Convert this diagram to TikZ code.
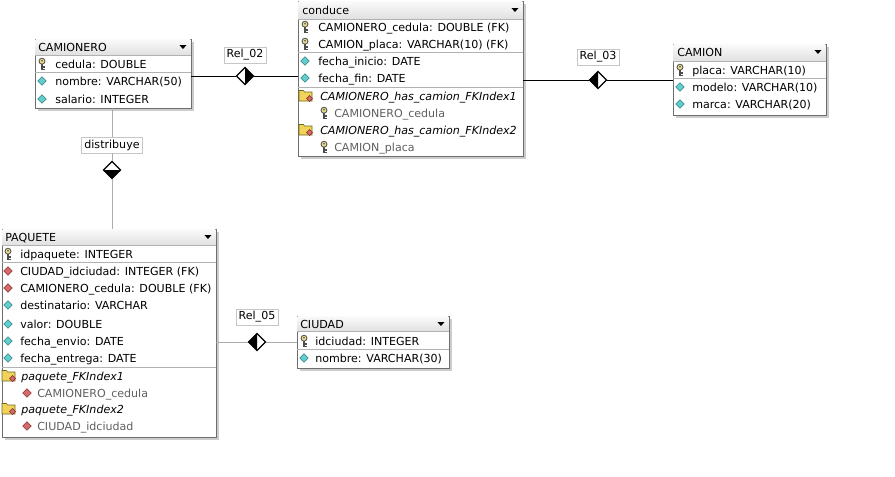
\documentclass[tikz,border=0pt]{standalone}
\usepackage{fontspec}
\setmainfont{DejaVu Sans}
\usetikzlibrary{arrows.meta, positioning, shapes.geometric, shadows, fit}

\definecolor{attrfill}{HTML}{62CDCD}
\definecolor{attrline}{HTML}{2A7F7F}
\definecolor{fkfill}{HTML}{D66A6A}
\definecolor{fkline}{HTML}{8A2A2A}
\definecolor{keyfill}{HTML}{E6DA8E}
\definecolor{folderfill}{HTML}{F2D35A}
\definecolor{frameline}{HTML}{6E6E6E}

\begin{document}
\begin{tikzpicture}[x=0.75pt, y=-0.75pt,
    font=\fontsize{8.3}{10}\selectfont,
    entity/.style={rectangle, draw=frameline, line width=0.7pt, fill=white,
      inner sep=0pt,
      drop shadow={shadow xshift=2.2pt, shadow yshift=-2.2pt, fill=gray!40,
        opacity=1}},
    hdr/.style={top color=gray!4, bottom color=gray!24},
    fld/.style={anchor=west, inner sep=0pt, text height=6pt, text depth=0pt},
    idx/.style={fld, font=\fontsize{8.3}{10}\selectfont\itshape},
    sub/.style={fld, text=gray!75!black},
    sep/.style={draw=gray!60, line width=0.5pt},
    attr/.style={diamond, draw=attrline, fill=attrfill, inner sep=0pt,
      minimum size=6.5pt, line width=0.4pt},
    fk/.style={attr, draw=fkline, fill=fkfill},
    pk/.style={minimum width=8pt, minimum height=10pt, inner sep=0pt,
      path picture={
        \begin{scope}[shift={(path picture bounding box.center)}]
          \draw[black!70, line width=1.3pt] (0,-1) -- (0,5.5);
          \draw[black!70, line width=0.8pt] (0,3) -- (2.5,3) (0,5.2) -- (2.5,5.2);
          \draw[black!70, fill=keyfill, line width=0.6pt] (0,-2.8) circle (3);
          \fill[black!70] (0,-3.3) circle (0.9);
        \end{scope}}},
    folder/.style={minimum width=12pt, minimum height=10pt, inner sep=0pt,
      path picture={
        \begin{scope}[shift={(path picture bounding box.center)}]
          \draw[olive!70!black, fill=folderfill, line width=0.4pt]
            (-7,5) -- (-7,-5.5) -- (-2.5,-5.5) -- (-1.5,-4) -- (6,-4)
            -- (6,5) -- cycle;
          \draw[fkline, fill=fkfill, line width=0.4pt]
            (3.5,-0.5) -- (6.5,2.5) -- (3.5,5.5) -- (0.5,2.5) -- cycle;
        \end{scope}}},
    rel/.style={draw=black, line width=0.75pt},
    relg/.style={draw=gray!65, line width=0.75pt},
    reldia/.style={diamond, draw=black, line width=0.9pt, fill=white,
      inner sep=0pt, minimum size=13pt},
    halfE/.style={reldia, path picture={\fill[black]
      (path picture bounding box.north) -- (path picture bounding box.east)
      -- (path picture bounding box.south) -- cycle;}},
    halfW/.style={reldia, path picture={\fill[black]
      (path picture bounding box.north) -- (path picture bounding box.west)
      -- (path picture bounding box.south) -- cycle;}},
    halfS/.style={reldia, path picture={\fill[black]
      (path picture bounding box.west) -- (path picture bounding box.south)
      -- (path picture bounding box.east) -- cycle;}},
    lbl/.style={draw=gray!45, fill=white, inner sep=2pt}]

  \fill[white] (0,0) rectangle (895,476);
  \useasboundingbox (0,0) rectangle (895,476);

  % CAMIONERO (top left)
  \node[entity, fit={(35,39) (191,108)}] (camionero) {};
  \path[hdr] ([shift={(1,1)}]camionero.north west) rectangle ([xshift=-0.75pt]camionero.east |- 0,55);
  \draw[sep] (camionero.west |- 0,55) -- (camionero.east |- 0,55);
  \node[fld] (camionero-t) at (38,47) {CAMIONERO};
  \fill (camionero.east |- 0,47) ++(-12,-2) -- ++(7,0) -- ++(-3.5,4) -- cycle;
  \foreach \y/\ic/\t [count=\i] in {64/pk/{cedula: DOUBLE},
      81/attr/{nombre: VARCHAR(50)}, 99/attr/{salario: INTEGER}}
    {\node[\ic] (camionero-i\i) at (42,\y) {};
     \node[fld] (camionero-f\i) at (55,\y) {\t};}
  \draw[sep] (camionero.west |- 0,72.5) -- (camionero.east |- 0,72.5);

  % conduce (top middle)
  \node[entity, fit={(298,1) (523,156)}] (conduce) {};
  \path[hdr] ([shift={(1,1)}]conduce.north west) rectangle ([xshift=-0.75pt]conduce.east |- 0,19);
  \draw[sep] (conduce.west |- 0,19) -- (conduce.east |- 0,19);
  \node[fld] (conduce-t) at (302,10) {conduce};
  \fill (conduce.east |- 0,10) ++(-12,-2) -- ++(7,0) -- ++(-3.5,4) -- cycle;
  \foreach \y/\ic/\t [count=\i] in {27/pk/{CAMIONERO\_cedula: DOUBLE (FK)},
      44/pk/{CAMION\_placa: VARCHAR(10) (FK)}, 61/attr/{fecha\_inicio: DATE},
      78/attr/{fecha\_fin: DATE}}
    {\node[\ic] (conduce-i\i) at (305,\y) {};
     \node[fld] (conduce-f\i) at (318,\y) {\t};}
  \draw[sep] (conduce.west |- 0,52.5) -- (conduce.east |- 0,52.5);
  \draw[sep] (conduce.west |- 0,87) -- (conduce.east |- 0,87);
  \node[folder] (conduce-x1) at (306,96) {};
  \node[idx] (conduce-n1) at (320,96) {CAMIONERO\_has\_camion\_FKIndex1};
  \node[pk] (conduce-k1) at (324,113) {};
  \node[sub] (conduce-s1) at (334,113) {CAMIONERO\_cedula};
  \node[folder] (conduce-x2) at (306,130) {};
  \node[idx] (conduce-n2) at (320,130) {CAMIONERO\_has\_camion\_FKIndex2};
  \node[pk] (conduce-k2) at (324,147) {};
  \node[sub] (conduce-s2) at (334,147) {CAMION\_placa};

  % CAMION (top right)
  \node[entity, fit={(673,44) (826,115)}] (camion) {};
  \path[hdr] ([shift={(1,1)}]camion.north west) rectangle ([xshift=-0.75pt]camion.east |- 0,61);
  \draw[sep] (camion.west |- 0,61) -- (camion.east |- 0,61);
  \node[fld] (camion-t) at (677,52) {CAMION};
  \fill (camion.east |- 0,52) ++(-12,-2) -- ++(7,0) -- ++(-3.5,4) -- cycle;
  \foreach \y/\ic/\t [count=\i] in {70/pk/{placa: VARCHAR(10)},
      87/attr/{modelo: VARCHAR(10)}, 104/attr/{marca: VARCHAR(20)}}
    {\node[\ic] (camion-i\i) at (680,\y) {};
     \node[fld] (camion-f\i) at (692,\y) {\t};}
  \draw[sep] (camion.west |- 0,78.5) -- (camion.east |- 0,78.5);

  % PAQUETE (bottom left)
  \node[entity, fit={(2,229) (216,437)}] (paquete) {};
  \path[hdr] ([shift={(1,1)}]paquete.north west) rectangle ([xshift=-0.75pt]paquete.east |- 0,245);
  \draw[sep] (paquete.west |- 0,245) -- (paquete.east |- 0,245);
  \node[fld] (paquete-t) at (5,237) {PAQUETE};
  \fill (paquete.east |- 0,237) ++(-12,-2) -- ++(7,0) -- ++(-3.5,4) -- cycle;
  \foreach \y/\ic/\t [count=\i] in {254/pk/{idpaquete: INTEGER},
      271/fk/{CIUDAD\_idciudad: INTEGER (FK)},
      288/fk/{CAMIONERO\_cedula: DOUBLE (FK)}, 305/attr/{destinatario: VARCHAR},
      324/attr/{valor: DOUBLE}, 341/attr/{fecha\_envio: DATE},
      358/attr/{fecha\_entrega: DATE}}
    {\node[\ic] (paquete-i\i) at (8,\y) {};
     \node[fld] (paquete-f\i) at (20,\y) {\t};}
  \draw[sep] (paquete.west |- 0,262.5) -- (paquete.east |- 0,262.5);
  \draw[sep] (paquete.west |- 0,367) -- (paquete.east |- 0,367);
  \node[folder] (paquete-x1) at (9,376) {};
  \node[idx] (paquete-n1) at (21,376) {paquete\_FKIndex1};
  \node[fk] (paquete-k1) at (27,393) {};
  \node[sub] (paquete-s1) at (37,393) {CAMIONERO\_cedula};
  \node[folder] (paquete-x2) at (9,409) {};
  \node[idx] (paquete-n2) at (21,409) {paquete\_FKIndex2};
  \node[fk] (paquete-k2) at (27,426) {};
  \node[sub] (paquete-s2) at (37,426) {CIUDAD\_idciudad};

  % CIUDAD (bottom middle)
  \node[entity, fit={(297,316) (449,368)}] (ciudad) {};
  \path[hdr] ([shift={(1,1)}]ciudad.north west) rectangle ([xshift=-0.75pt]ciudad.east |- 0,331);
  \draw[sep] (ciudad.west |- 0,331) -- (ciudad.east |- 0,331);
  \node[fld] (ciudad-t) at (300,324) {CIUDAD};
  \fill (ciudad.east |- 0,324) ++(-12,-2) -- ++(7,0) -- ++(-3.5,4) -- cycle;
  \foreach \y/\ic/\t [count=\i] in {341/pk/{idciudad: INTEGER},
      358/attr/{nombre: VARCHAR(30)}}
    {\node[\ic] (ciudad-i\i) at (304,\y) {};
     \node[fld] (ciudad-f\i) at (315,\y) {\t};}
  \draw[sep] (ciudad.west |- 0,349.5) -- (ciudad.east |- 0,349.5);

  % relationships
  \node[halfE] (rel02) at (245,76) {};
  \node[lbl] (rel02-l) at (245,55) {Rel\_02};
  \draw[rel] (camionero.east |- rel02) -- (rel02.west);
  \draw[rel] (rel02.east) -- (conduce.west |- rel02);

  \node[halfW] (rel03) at (598,80) {};
  \node[lbl] (rel03-l) at (598,57) {Rel\_03};
  \draw[rel] (conduce.east |- rel03) -- (rel03.west);
  \draw[rel] (rel03.east) -- (camion.west |- rel03);

  \node[halfS] (distribuye) at (112,170) {};
  \node[lbl] (distribuye-l) at (112,145) {distribuye};
  \draw[relg] (camionero.south -| distribuye) -- (distribuye-l.north);
  \draw[relg] (distribuye-l.south) -- (distribuye.north);
  \draw[relg] (distribuye.south) -- (paquete.north -| distribuye);

  \node[halfW] (rel05) at (257,342) {};
  \node[lbl] (rel05-l) at (257,317) {Rel\_05};
  \draw[relg] (paquete.east |- rel05) -- (rel05.west);
  \draw[relg] (rel05.east) -- (ciudad.west |- rel05);

\end{tikzpicture}
\end{document}
